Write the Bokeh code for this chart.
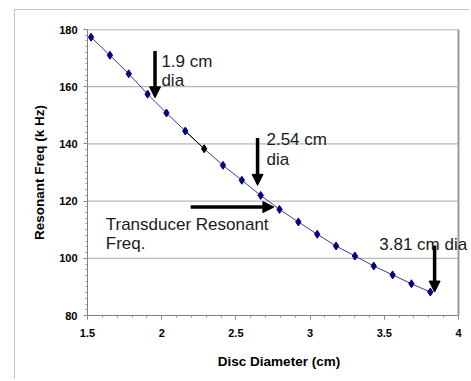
from bokeh.plotting import figure
from bokeh.models import (Range1d, FixedTicker, NumeralTickFormatter,
                          Arrow, NormalHead, ColumnDataSource, Label)
from bokeh.embed import file_html
from bokeh.resources import INLINE
import numpy as np

# ---- data ----
diameter_cm = [1.524, 1.651, 1.778, 1.905, 2.032, 2.159, 2.286, 2.413, 2.540, 2.667,
               2.794, 2.921, 3.048, 3.175, 3.302, 3.429, 3.556, 3.683, 3.810]
freq_khz = [177.3, 171.0, 164.5, 157.4, 150.8, 144.5, 138.3, 132.5, 127.3, 122.0,
            117.1, 112.7, 108.4, 104.3, 100.8, 97.3, 94.2, 91.1, 88.2]
highlight_index = 6  # point drawn in black

x_ticks = [1.5, 2.0, 2.5, 3.0, 3.5, 4.0]
y_ticks = [80, 100, 120, 140, 160, 180]

label_text = ["1.9 cm", "dia", "2.54 cm", "dia", "Transducer Resonant", "Freq.", "3.81 cm dia"]
label_x = [1.998, 1.998, 2.706, 2.706, 1.623, 1.623, 3.466]
label_y = [168.9, 162.0, 141.4, 134.5, 111.8, 105.1, 104.9]

arrow_x_start = [1.955, 2.646, 2.195, 3.839]
arrow_y_start = [172.5, 142.1, 117.9, 104.5]
arrow_x_end = [1.955, 2.646, 2.756, 3.839]
arrow_y_end = [156.1, 125.5, 117.9, 88.2]

# layout (canvas starts at x=15, y=10 after the chart-frame margin and border)
W, H = 455, 370
ML, MT, MB = 72, 19, 65
PLOT_W = 371          # pixels covering 1.5 .. 4 cm
FW = W - ML           # frame widened to the right so the last label is not clipped
x_lo, x_hi = x_ticks[0], x_ticks[-1]
x_end = x_lo + (x_hi - x_lo) * FW / PLOT_W

p = figure(width=W, height=H, output_backend="svg", toolbar_location=None,
           x_range=Range1d(x_lo, x_end), y_range=Range1d(y_ticks[0], y_ticks[-1]),
           min_border_left=ML, min_border_right=0, min_border_top=MT, min_border_bottom=MB,
           background_fill_color="white", border_fill_color="white")
p.styles = {"margin-left": "14px", "margin-top": "9px",
            "border-left": "1px solid #c4c4c4", "border-top": "1px solid #c4c4c4"}
p.outline_line_color = None

# axes
x_minor = [float(v) for v in np.round(np.arange(x_lo, x_hi + 1e-9, 0.1), 3)]
y_minor = [float(v) for v in np.arange(y_ticks[0], y_ticks[-1] + 1e-9, 2)]
p.xaxis.ticker = FixedTicker(ticks=x_ticks, minor_ticks=x_minor)
p.yaxis.ticker = FixedTicker(ticks=y_ticks, minor_ticks=y_minor)
p.xaxis.bounds = (x_lo, x_hi)
p.xaxis.formatter = NumeralTickFormatter(format="0.[0]")
for ax in (p.xaxis, p.yaxis):
    ax.axis_line_color = "#808080"
    ax.major_tick_line_color = "#808080"
    ax.minor_tick_line_color = "#909090"
    ax.major_tick_in = 0
    ax.major_tick_out = 4
    ax.minor_tick_in = 0
    ax.minor_tick_out = 2
    ax.major_label_text_font = "Liberation Sans"
    ax.major_label_text_font_style = "bold"
    ax.major_label_text_font_size = "11px"
    ax.major_label_text_color = "black"
    ax.axis_label_text_font = "Liberation Sans"
    ax.axis_label_text_font_style = "bold"
    ax.axis_label_text_font_size = "13.5px"
    ax.axis_label_text_color = "black"
p.xaxis.axis_label = "Disc Diameter (cm)"
p.yaxis.axis_label = "Resonant Freq (k Hz)"
p.xaxis.major_label_standoff = 9
p.yaxis.major_label_standoff = 6
p.xaxis.axis_label_standoff = 14
p.yaxis.axis_label_standoff = 9

# grid lines and plot-area border, limited to the 1.5..4 plot area
p.xgrid.grid_line_color = None
p.ygrid.grid_line_color = None
p.segment(x0=[x_lo] * 4, x1=[x_hi] * 4, y0=y_ticks[1:-1], y1=y_ticks[1:-1],
          line_color="#b8b8b8", line_width=1.2)
p.segment(x0=[x_lo], x1=[x_hi], y0=[y_ticks[-1]], y1=[y_ticks[-1]],
          line_color="#9a9a9a", line_width=1.5)
p.segment(x0=[x_hi], x1=[x_hi], y0=[y_ticks[0]], y1=[y_ticks[-1]],
          line_color="#9a9a9a", line_width=2)

# series
p.line(diameter_cm, freq_khz, line_color="#3a3aa8", line_width=1)
hi = highlight_index
p.line(diameter_cm[hi - 1:hi + 1], freq_khz[hi - 1:hi + 1], line_color="black", line_width=1)
colors = ["black" if i == hi else "#000080" for i in range(len(diameter_cm))]
src = ColumnDataSource(dict(x=diameter_cm, y=freq_khz, c=colors))
p.scatter("x", "y", source=src, marker="diamond", size=8, fill_color="c", line_color="c")

# arrows
for xs, ys, xe, ye in zip(arrow_x_start, arrow_y_start, arrow_x_end, arrow_y_end):
    p.add_layout(Arrow(x_start=xs, y_start=ys, x_end=xe, y_end=ye, line_width=3.5,
                       line_color="black",
                       end=NormalHead(size=11, fill_color="black", line_color="black")))

# labels
for t, lx, ly in zip(label_text, label_x, label_y):
    p.add_layout(Label(x=lx, y=ly, text=t, text_font="Liberation Sans",
                       text_font_size="17px", text_color="#1a1a1a",
                       text_baseline="alphabetic", text_align="left"))

open("out.html", "w").write(file_html(p, INLINE))
